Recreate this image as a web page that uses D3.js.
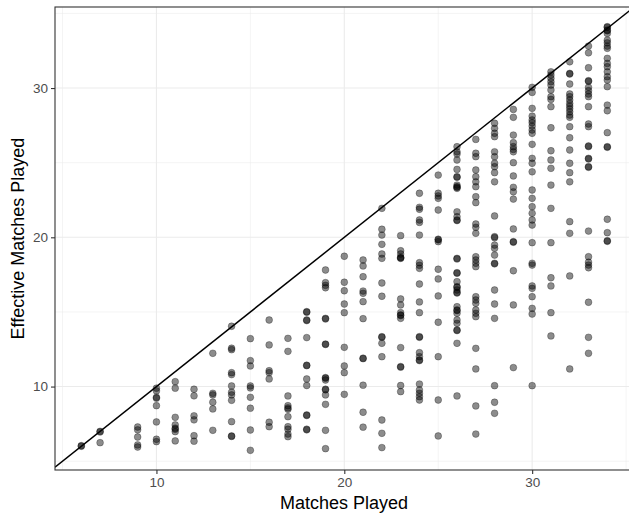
<!DOCTYPE html>
<html>
<head>
<meta charset="utf-8">
<script src="https://cdnjs.cloudflare.com/ajax/libs/d3/7.8.5/d3.min.js"></script>
<style>
  html, body { margin: 0; padding: 0; background: #fff; overflow: hidden; }
  svg { display: block; }
</style>
</head>
<body>
<svg id="chart" width="629" height="513"></svg>
<script>
// ---- data ----
const matchesPlayed = [6, 7, 9, 10, 11, 12, 13, 14, 15, 16, 17, 18, 19, 20, 21, 22, 23, 24, 25, 26, 27, 28, 29, 30, 31, 32, 33, 34];
const effectiveMatches = [
  [6.04, 6.0],
  [7.0, 6.96, 6.24],
  [7.29, 7.10, 6.62, 6.09, 5.95],
  [9.89, 9.71, 9.28, 9.22, 8.72, 7.63, 6.47, 6.31],
  [10.33, 9.89, 7.94, 7.43, 7.21, 7.14, 6.98, 6.36],
  [9.82, 9.38, 8.04, 7.77, 6.71, 6.34],
  [12.23, 9.55, 9.44, 8.95, 8.50, 7.07],
  [14.04, 12.57, 12.47, 10.93, 10.80, 10.04, 9.62, 9.44, 9.08, 7.65, 6.69, 6.66],
  [13.21, 11.74, 11.38, 10.04, 9.91, 9.28, 8.55, 7.09, 5.73],
  [14.46, 12.79, 11.06, 10.93, 10.51, 7.61, 7.31],
  [13.23, 12.36, 9.37, 8.72, 8.57, 8.48, 7.98, 7.31, 7.14, 6.82, 6.64],
  [15.02, 14.98, 14.46, 14.42, 13.28, 11.43, 11.40, 10.51, 10.07, 8.10, 8.06, 7.14, 7.10],
  [17.81, 16.96, 16.78, 16.62, 14.57, 14.53, 12.85, 12.82, 10.60, 10.56, 10.44, 9.82, 9.78, 9.44, 8.81, 7.07, 5.84],
  [18.73, 16.99, 16.42, 15.53, 14.95, 12.63, 11.38, 10.93, 9.48],
  [18.48, 18.08, 17.36, 16.40, 16.25, 15.69, 14.55, 11.90, 11.87, 10.09, 8.28, 7.28],
  [21.94, 20.54, 20.15, 19.53, 18.88, 18.59, 16.94, 16.05, 13.34, 13.30, 12.90, 12.00, 7.76, 6.87, 5.91],
  [20.11, 19.10, 18.88, 18.66, 18.62, 18.59, 15.87, 15.47, 14.95, 14.80, 14.76, 14.57, 12.61, 11.34, 11.30, 10.07, 9.66],
  [22.95, 22.01, 21.88, 21.16, 21.00, 20.15, 18.30, 18.12, 17.92, 16.87, 15.67, 14.95, 13.34, 13.30, 12.27, 12.00, 11.78, 11.74, 10.17, 9.77, 9.55, 9.32, 9.10],
  [24.17, 22.95, 22.77, 22.61, 21.83, 19.87, 19.83, 19.71, 17.86, 17.21, 16.07, 14.31, 12.00, 9.10, 6.69],
  [26.07, 25.73, 25.58, 25.18, 24.55, 24.06, 24.02, 23.50, 23.39, 23.35, 23.28, 21.71, 21.38, 21.16, 21.12, 18.59, 18.55, 17.63, 17.59, 17.03, 16.69, 16.65, 16.47, 16.31, 16.27, 15.35, 15.13, 15.09, 14.91, 14.46, 14.24, 13.79, 13.75, 12.90, 9.37],
  [26.56, 25.63, 25.40, 24.51, 24.06, 23.72, 23.39, 22.72, 22.32, 20.89, 20.67, 20.27, 18.70, 18.48, 18.26, 18.03, 16.02, 15.80, 15.58, 15.13, 14.91, 14.68, 12.56, 11.18, 8.70, 6.82],
  [27.64, 27.30, 26.97, 26.74, 25.73, 25.40, 24.96, 24.73, 24.33, 23.72, 21.43, 20.04, 19.97, 19.48, 19.26, 18.81, 18.26, 18.22, 16.47, 15.53, 14.57, 10.06, 8.95, 8.21],
  [28.57, 28.04, 26.85, 26.34, 26.07, 25.89, 25.73, 25.00, 24.11, 23.35, 23.05, 22.56, 20.56, 19.71, 19.67, 17.76, 15.47, 11.27],
  [30.05, 29.71, 28.64, 28.12, 27.86, 27.68, 27.45, 27.19, 26.97, 26.23, 25.29, 24.96, 24.39, 23.17, 22.61, 22.05, 21.61, 21.16, 20.82, 19.64, 18.26, 18.14, 16.74, 16.58, 16.02, 15.24, 14.86, 10.06],
  [31.09, 30.87, 30.65, 30.42, 30.20, 29.87, 29.42, 29.24, 28.75, 27.34, 25.80, 25.18, 24.62, 23.50, 21.94, 19.64, 17.29, 16.74, 14.95, 13.39],
  [31.76, 30.98, 30.94, 30.27, 29.60, 29.42, 29.20, 28.97, 28.79, 28.61, 28.41, 28.19, 28.04, 27.41, 26.67, 25.85, 24.96, 24.33, 23.72, 21.05, 20.27, 17.41, 11.18],
  [32.81, 32.36, 31.36, 30.49, 30.45, 30.05, 29.82, 29.60, 29.42, 28.75, 27.59, 27.41, 26.12, 26.08, 25.29, 25.25, 24.73, 24.69, 20.42, 18.70, 18.33, 18.14, 17.96, 15.65, 13.30, 12.23],
  [34.11, 34.07, 33.88, 33.84, 33.66, 33.21, 33.03, 32.81, 32.66, 31.99, 31.65, 31.43, 31.09, 30.76, 30.54, 30.09, 28.86, 28.48, 27.01, 26.07, 26.03, 21.21, 20.31, 19.77, 19.73]
];
const xTicks = [10, 20, 30];
const yTicks = [10, 20, 30];
const xMinorTicks = [5, 15, 25, 35];
const yMinorTicks = [5, 15, 25, 35];
const xTitle = "Matches Played";
const yTitle = "Effective Matches Played";

// ---- layout ----
const panel = { left: 55, top: 7, bottom: 470, right: 633.6 };
const svg = d3.select("#chart");
const fontFamily = "'Liberation Sans', Arial, Helvetica, sans-serif";

const points = matchesPlayed.flatMap((m, i) => effectiveMatches[i].map(e => ({ m, e })));

const x = d3.scaleLinear().domain([4.6, 35.4]).range([panel.left, panel.right]);
const y = d3.scaleLinear().domain([4.41, 35.43]).range([panel.bottom, panel.top]);

const clipId = "panelclip";
svg.append("defs").append("clipPath").attr("id", clipId)
  .append("rect").attr("x", panel.left).attr("y", panel.top)
  .attr("width", panel.right - panel.left).attr("height", panel.bottom - panel.top);

const g = svg.append("g");

// minor grid
g.append("g").selectAll("line").data(xMinorTicks).join("line")
  .attr("x1", d => x(d)).attr("x2", d => x(d))
  .attr("y1", panel.top).attr("y2", panel.bottom)
  .attr("stroke", "#EBEBEB").attr("stroke-width", 0.55);
g.append("g").selectAll("line").data(yMinorTicks).join("line")
  .attr("y1", d => y(d)).attr("y2", d => y(d))
  .attr("x1", panel.left).attr("x2", panel.right)
  .attr("stroke", "#EBEBEB").attr("stroke-width", 0.55);
// major grid
g.append("g").selectAll("line").data(xTicks).join("line")
  .attr("x1", d => x(d)).attr("x2", d => x(d))
  .attr("y1", panel.top).attr("y2", panel.bottom)
  .attr("stroke", "#EBEBEB").attr("stroke-width", 1.1);
g.append("g").selectAll("line").data(yTicks).join("line")
  .attr("y1", d => y(d)).attr("y2", d => y(d))
  .attr("x1", panel.left).attr("x2", panel.right)
  .attr("stroke", "#EBEBEB").attr("stroke-width", 1.1);

// points
g.append("g").attr("clip-path", `url(#${clipId})`)
  .selectAll("circle").data(points).join("circle")
  .attr("cx", d => x(d.m)).attr("cy", d => y(d.e)).attr("r", 3.4)
  .attr("fill", "#000").attr("fill-opacity", 0.45)
  .attr("stroke", "#000").attr("stroke-opacity", 0.4).attr("stroke-width", 0.7);

// y = x reference line
g.append("line").attr("clip-path", `url(#${clipId})`)
  .attr("x1", x(x.domain()[0])).attr("y1", y(x.domain()[0]))
  .attr("x2", x(x.domain()[1])).attr("y2", y(x.domain()[1]))
  .attr("stroke", "#000").attr("stroke-width", 1.5);

// panel border
g.append("rect").attr("x", panel.left).attr("y", panel.top)
  .attr("width", panel.right - panel.left).attr("height", panel.bottom - panel.top)
  .attr("fill", "none").attr("stroke", "#333333").attr("stroke-width", 1.1);

// axes
const xAxis = d3.axisBottom(x).tickValues(xTicks).tickSize(4).tickPadding(3);
const yAxis = d3.axisLeft(y).tickValues(yTicks).tickSize(4).tickPadding(3);
const gx = svg.append("g").attr("transform", `translate(0,${panel.bottom})`).call(xAxis);
const gy = svg.append("g").attr("transform", `translate(${panel.left},0)`).call(yAxis);
[gx, gy].forEach(a => {
  a.select(".domain").remove();
  a.selectAll(".tick line").attr("stroke", "#333333").attr("stroke-width", 1.1);
  a.selectAll(".tick text").attr("fill", "#4D4D4D")
    .style("font-family", fontFamily).style("font-size", "13.5px");
});

// titles
svg.append("text").attr("x", 344).attr("y", 509)
  .attr("text-anchor", "middle").attr("fill", "#000")
  .style("font-family", fontFamily).style("font-size", "18px")
  .text(xTitle);
svg.append("text")
  .attr("transform", `translate(24,${(panel.top + panel.bottom) / 2}) rotate(-90)`)
  .attr("text-anchor", "middle").attr("fill", "#000")
  .style("font-family", fontFamily).style("font-size", "18px")
  .text(yTitle);
</script>
</body>
</html>
